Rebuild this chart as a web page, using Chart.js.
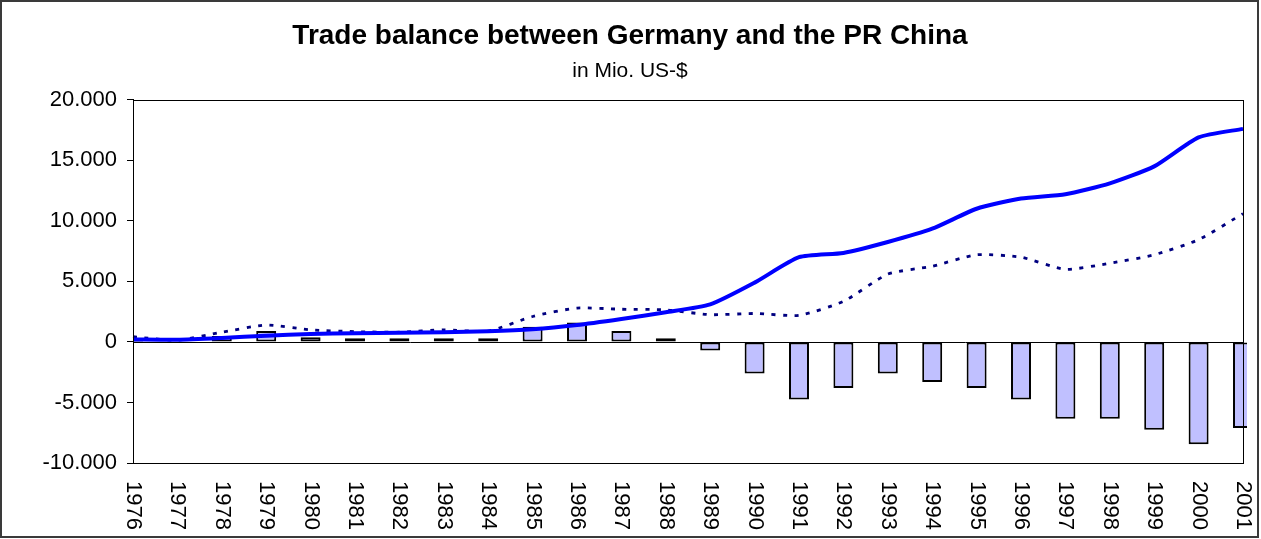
<!DOCTYPE html>
<html>
<head>
<meta charset="utf-8">
<script src="https://cdn.jsdelivr.net/npm/chart.js@4.4.1/dist/chart.umd.min.js"></script>
<style>
  html, body { margin: 0; padding: 0; background: #ffffff; }
  #wrap { position: relative; width: 1261px; height: 539px; }
</style>
</head>
<body>
<div id="wrap"><canvas id="c"></canvas></div>
<script>
// ---- data ----
const years = ['1976','1977','1978','1979','1980','1981','1982','1983','1984','1985','1986','1987','1988',
               '1989','1990','1991','1992','1993','1994','1995','1996','1997','1998','1999','2000','2001'];
const importsFromChina = [200, 180, 330, 520, 650, 720, 760, 800, 880, 1050, 1400, 1900, 2450,
                          3100, 4900, 7000, 7350, 8250, 9350, 11000, 11850, 12200, 13100, 14500, 16900, 17600];
const exportsToChina   = [430, 150, 800, 1400, 1000, 850, 800, 1000, 900, 2100, 2800, 2700, 2650,
                          2250, 2350, 2200, 3350, 5600, 6250, 7200, 7000, 6000, 6500, 7200, 8450, 10600];
const tradeBalance     = [230, -60, 500, 900, 380, 300, 300, 300, 300, 1250, 1600, 900, 300,
                          -700, -2600, -4750, -3800, -2600, -3300, -3800, -4750, -6350, -6350, -7250, -8450, -7100];
const yMin = -10000, yMax = 20000, yStep = 5000;
const titleText = 'Trade balance between Germany and the PR China';
const subtitleText = 'in Mio. US-$';

const FONT = "'Liberation Sans', Arial, Helvetica, sans-serif";
Chart.defaults.font.family = FONT;
Chart.defaults.color = '#000';

function fmt(v) {
  const s = String(Math.abs(v)).replace(/\B(?=(\d{3})+(?!\d))/g, '.');
  return (v < 0 ? '-' : '') + s;
}

const framePlugin = {
  id: 'frame',
  beforeDraw(chart) {
    const ctx = chart.ctx;
    ctx.save();
    ctx.fillStyle = '#ffffff';
    ctx.fillRect(0, 0, chart.width, chart.height);
    ctx.restore();
  },
  beforeDatasetsDraw(chart) {
    const ctx = chart.ctx, a = chart.chartArea, y = chart.scales.y;
    ctx.save();
    ctx.strokeStyle = '#000';
    ctx.lineWidth = 1;
    const y0 = Math.round(y.getPixelForValue(0)) + 0.5;
    ctx.beginPath();
    ctx.moveTo(a.left, y0);
    ctx.lineTo(a.right, y0);
    ctx.stroke();
    ctx.restore();
  },
  afterDraw(chart) {
    const ctx = chart.ctx, a = chart.chartArea, x = chart.scales.x;
    ctx.save();
    ctx.strokeStyle = '#000';
    ctx.lineWidth = 1;
    ctx.strokeRect(Math.round(a.left) + 0.5, Math.round(a.top) + 0.5,
                   Math.round(a.right - a.left), Math.round(a.bottom - a.top));
    ctx.strokeStyle = '#3a3a3a';
    ctx.lineWidth = 2;
    ctx.strokeRect(1, 1, 1257, 536);
    ctx.fillStyle = '#000';
    ctx.font = '22px ' + FONT;
    ctx.textAlign = 'left';
    ctx.textBaseline = 'middle';
    years.forEach((lab, i) => {
      const px = x.getPixelForValue(i);
      ctx.save();
      ctx.translate(px, a.bottom + 18);
      ctx.rotate(Math.PI / 2);
      ctx.fillText(lab, 0, 0);
      ctx.restore();
    });
    ctx.restore();
  }
};

new Chart(document.getElementById('c'), {
  type: 'bar',
  data: {
    labels: years,
    datasets: [
      {
        type: 'line',
        label: 'Imports from China',
        data: importsFromChina,
        borderColor: '#0000FF',
        backgroundColor: '#0000FF',
        borderWidth: 4,
        pointRadius: 0,
        tension: 0.2,
        order: 1
      },
      {
        type: 'line',
        label: 'Exports to China',
        data: exportsToChina,
        borderColor: '#000080',
        backgroundColor: '#000080',
        borderWidth: 2.8,
        borderDash: [4, 7.5],
        borderCapStyle: 'butt',
        pointRadius: 0,
        tension: 0.2,
        order: 2
      },
      {
        type: 'bar',
        label: 'Trade balance',
        data: tradeBalance,
        backgroundColor: '#C0C0FF',
        borderColor: '#000000',
        borderWidth: 2,
        borderSkipped: false,
        categoryPercentage: 1,
        barPercentage: 0.45,
        clip: { left: 0, right: 4, top: 0, bottom: 0 },
        order: 3
      }
    ]
  },
  plugins: [framePlugin],
  options: {
    responsive: true,
    maintainAspectRatio: false,
    animation: false,
    devicePixelRatio: 1,
    layout: { padding: { left: 17, right: 18, top: 0, bottom: 0 } },
    plugins: {
      legend: { display: false },
      tooltip: { enabled: false },
      title: {
        display: true,
        text: titleText,
        color: '#000',
        font: { size: 28, weight: 'bold', family: FONT },
        padding: { top: 19, bottom: 6 }
      },
      subtitle: {
        display: true,
        text: subtitleText,
        color: '#000',
        font: { size: 21, weight: 'normal', family: FONT },
        padding: { top: 0, bottom: 16 }
      }
    },
    scales: {
      x: {
        type: 'category',
        offset: false,
        grid: { display: false },
        border: { display: false },
        ticks: { display: false },
        afterFit(scale) { scale.height = 76; }
      },
      y: {
        min: yMin,
        max: yMax,
        ticks: {
          stepSize: yStep,
          padding: 10,
          color: '#000',
          font: { size: 22, family: FONT },
          callback: (v) => fmt(v)
        },
        grid: {
          display: true,
          drawOnChartArea: false,
          drawTicks: true,
          tickLength: 6,
          color: '#000',
          lineWidth: 1
        },
        border: { display: true, color: '#000', width: 1 },
        afterFit(scale) { scale.width = 116; }
      }
    }
  }
});
</script>
</body>
</html>
